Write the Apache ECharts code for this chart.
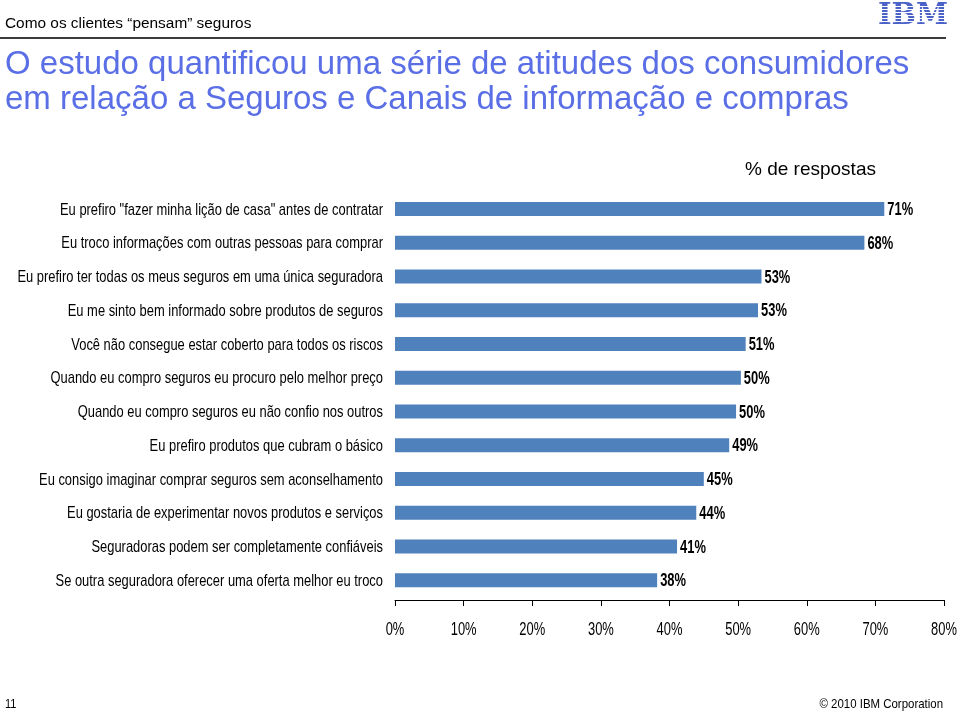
<!DOCTYPE html>
<html>
<head>
<meta charset="utf-8">
<script src="https://cdn.jsdelivr.net/npm/echarts@6/dist/echarts.min.js"></script>
<style>html,body{margin:0;padding:0;background:#fff;}#c{width:960px;height:712px;}</style>
</head>
<body>
<div id="c"></div>
<script>
var categories = [
  'Eu prefiro "fazer minha lição de casa" antes de contratar',
  'Eu troco informações com outras pessoas para comprar',
  'Eu prefiro ter todas os meus seguros em uma única seguradora',
  'Eu me sinto bem informado sobre produtos de seguros',
  'Você não consegue estar coberto para todos os riscos',
  'Quando eu compro seguros eu procuro pelo melhor preço',
  'Quando eu compro seguros eu não confio nos outros',
  'Eu prefiro produtos que cubram o básico',
  'Eu consigo imaginar comprar seguros sem aconselhamento',
  'Eu gostaria de experimentar novos produtos e serviços',
  'Seguradoras podem ser completamente confiáveis',
  'Se outra seguradora oferecer uma oferta melhor eu troco'
];
var values = [71.3, 68.4, 53.4, 52.9, 51.1, 50.4, 49.7, 48.7, 45.0, 43.9, 41.1, 38.2];
var valueLabels = ['71%', '68%', '53%', '53%', '51%', '50%', '50%', '49%', '45%', '44%', '41%', '38%'];
var axisTicks = [0, 10, 20, 30, 40, 50, 60, 70, 80];
var axisTickLabels = ['0%', '10%', '20%', '30%', '40%', '50%', '60%', '70%', '80%'];

var sans = '"Liberation Sans", Arial, sans-serif';

var chart = echarts.init(document.getElementById('c'), null, {renderer: 'canvas'});

var logoStripes = [];
for (var i = 0; i < 8; i++) {
  logoStripes.push({
    type: 'rect', left: 878, top: 6 + i * 3, z: 101,
    shape: {width: 68, height: 1},
    style: {fill: '#ffffff'}
  });
}

var catData = categories.map(function (c, i) { return [0, i]; });
var valData = values.map(function (v, i) { return [v, i]; });
var tickData = axisTicks.map(function (v, i) { return [v, 0]; });

var option = {
  backgroundColor: '#ffffff',
  animation: false,
  grid: {left: 395, right: 16, top: 192, bottom: 115, containLabel: false, outerBoundsMode: 'none'},
  xAxis: {
    type: 'value', min: axisTicks[0], max: axisTicks[axisTicks.length - 1], interval: 10,
    position: 'bottom', offset: 3,
    axisLine: {show: true, lineStyle: {color: '#000', width: 1}},
    axisTick: {show: true, length: 6, lineStyle: {color: '#000'}},
    splitLine: {show: false},
    axisLabel: {show: false}
  },
  yAxis: {
    type: 'category', data: categories, inverse: true,
    axisLine: {show: false}, axisTick: {show: false},
    axisLabel: {show: false}
  },
  series: [{
    type: 'bar', data: values, barWidth: 14,
    itemStyle: {color: '#4f81bd'},
    label: {show: false}
  }, {
    type: 'custom', data: catData, clip: false, silent: true,
    encode: {x: 0, y: 1},
    renderItem: function (params, api) {
      var p = api.coord([api.value(0), api.value(1)]);
      return {
        type: 'text', x: p[0] - 12, y: p[1] + 1, scaleX: 0.76,
        style: {text: categories[params.dataIndex], align: 'right', verticalAlign: 'middle',
                font: '17px ' + sans, fill: '#000'}
      };
    }
  }, {
    type: 'custom', data: valData, clip: false, silent: true,
    encode: {x: 0, y: 1},
    renderItem: function (params, api) {
      var p = api.coord([api.value(0), api.value(1)]);
      return {
        type: 'text', x: p[0] + 3, y: p[1] + 1, scaleX: 0.68,
        style: {text: valueLabels[params.dataIndex], align: 'left', verticalAlign: 'middle',
                font: 'bold 19px ' + sans, fill: '#000'}
      };
    }
  }, {
    type: 'custom', data: tickData, clip: false, silent: true,
    encode: {x: 0, y: 1},
    renderItem: function (params, api) {
      var p = api.coord([api.value(0), 0]);
      var cs = params.coordSys;
      return {
        type: 'text', x: p[0], y: cs.y + cs.height + 33, scaleX: 0.68,
        style: {text: axisTickLabels[params.dataIndex], align: 'center', verticalAlign: 'middle',
                font: '19px ' + sans, fill: '#000'}
      };
    }
  }],
  graphic: [
    {type: 'text', left: 5, top: 16, style: {text: 'Como os clientes \u201cpensam\u201d seguros', font: '15.4px ' + sans, fill: '#000'}},
    {type: 'rect', left: 0, top: 37, shape: {width: 946, height: 2}, style: {fill: '#3c3c3c'}},
    {type: 'text', left: 878, top: 2, z: 100, style: {text: 'IBM', font: 'bold 29px "DejaVu Serif", "Liberation Serif", serif', fill: '#4b62c8'}},
    {type: 'text', left: 5, top: 48, style: {text: 'O estudo quantificou uma série de atitudes dos consumidores', font: '33px ' + sans, fill: '#5a6ee6'}},
    {type: 'text', left: 5, top: 83, style: {text: 'em relação a Seguros e Canais de informação e compras', font: '33px ' + sans, fill: '#5a6ee6'}},
    {type: 'text', left: 745, top: 160, style: {text: '% de respostas', font: '19px ' + sans, fill: '#000'}},
    {type: 'text', x: 5, y: 704, scaleX: 0.85, style: {text: '11', font: '13px ' + sans, fill: '#000', verticalAlign: 'middle'}},
    {type: 'text', x: 943, y: 704, scaleX: 0.88, style: {text: '\u00a9 2010 IBM Corporation', align: 'right', verticalAlign: 'middle', font: '13px ' + sans, fill: '#000'}}
  ].concat(logoStripes)
};
chart.setOption(option);
</script>
</body>
</html>
